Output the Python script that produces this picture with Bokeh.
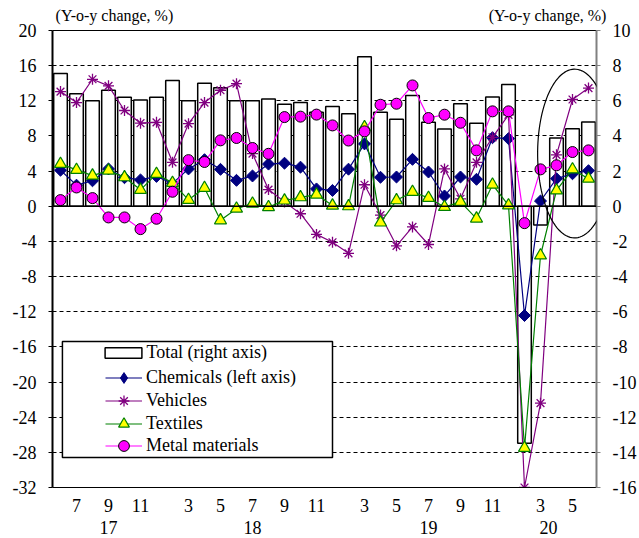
import numpy as np
from bokeh.plotting import figure
from bokeh.models import (Range1d, LinearAxis, FixedTicker, Legend, LegendItem,
                          Span, BoxAnnotation, PolyAnnotation, ColumnDataSource)
from bokeh.embed import file_html
from bokeh.resources import INLINE

# Reporting periods: June 2017 - June 2020, January and February combined ("2" = Jan-Feb)
years = [2017] * 7 + [2018] * 11 + [2019] * 11 + [2020] * 5
months = ([6, 7, 8, 9, 10, 11, 12]
          + [2, 3, 4, 5, 6, 7, 8, 9, 10, 11, 12]
          + [2, 3, 4, 5, 6, 7, 8, 9, 10, 11, 12]
          + [2, 3, 4, 5, 6])

# Total (right axis), y-o-y %
total = [7.55, 6.4, 6.0, 6.6, 6.2, 6.05, 6.2, 7.15, 6.0, 7.0, 6.75, 6.0, 6.0, 6.1,
         5.8, 5.9, 5.35, 5.67, 5.27, 8.5, 5.35, 4.95, 6.3, 4.78, 4.4, 5.83, 4.73,
         6.22, 6.93, -13.48, -1.06, 3.88, 4.41, 4.8]
# Left-axis series, y-o-y %
chemicals = [4.1, 2.4, 2.9, 4.25, 3.25, 3.0, 3.4, 2.6, 4.25, 5.3, 4.2, 2.95, 3.45, 4.8,
             4.9, 4.45, 1.97, 1.8, 4.22, 7.1, 3.3, 3.33, 5.34, 3.9, 1.17, 3.33, 3.07,
             7.8, 7.7, -12.43, 0.6, 3.14, 3.7, 4.05]
vehicles = [13.05, 11.8, 14.45, 13.7, 10.9, 9.45, 9.55, 5.0, 9.4, 11.8, 13.2, 13.95, 6.0,
            1.9, 0.5, -0.85, -3.2, -4.1, -5.35, 2.45, -1.0, -4.5, -2.35, -4.35, 4.25,
            0.85, 5.0, 7.85, 10.4, -32.0, -22.4, 5.85, 12.15, 13.45]
textiles = [4.82, 4.14, 3.49, 4.06, 3.3, 1.87, 3.68, 2.66, 0.73, 2.08, -1.6, -0.27, 0.3,
            -0.1, 0.65, 1.02, 1.33, 0.08, 0.0, 9.0, -1.85, 0.68, 1.63, 0.95, -0.08, 0.5,
            -1.4, 2.45, 0.1, -27.5, -5.6, 1.8, 4.2, 3.14]
metal = [0.7, 2.14, 0.93, -1.27, -1.27, -2.6, -1.42, 1.65, 5.25, 5.04, 7.5, 7.77, 6.63,
         5.97, 10.15, 10.2, 10.43, 9.2, 7.48, 8.52, 11.55, 11.67, 13.75, 10.04, 10.42,
         9.5, 6.36, 10.8, 10.8, -1.92, 4.2, 4.66, 6.17, 6.36]

year_labels = ["17", "18", "19", "20"]
unit_caption = "(Y-o-y change, %)"

FONT = "Liberation Serif"
x = list(range(len(months)))
src = ColumnDataSource(dict(x=x, total=total, chemicals=chemicals, vehicles=vehicles,
                            textiles=textiles, metal=metal))

p = figure(width=639, height=538, output_backend="svg", toolbar_location=None,
           x_range=Range1d(-0.5, len(x) - 0.5), y_range=Range1d(-32, 20),
           min_border_left=52, min_border_right=42, min_border_top=30,
           min_border_bottom=51, background_fill_color="white",
           border_fill_color="white")
p.extra_y_ranges = {"right": Range1d(-16, 10)}
p.outline_line_color = None
p.xgrid.visible = False


def style_ticks(axis, size="18px"):
    axis.major_label_text_font = FONT
    axis.major_label_text_font_size = size
    axis.major_label_text_color = "black"
    axis.minor_tick_line_color = None


def plain(v):
    return str(int(v)) if float(v).is_integer() else str(v)


# left axis
left_ticks = list(range(-32, 21, 4))
ya = p.yaxis[0]
ya.ticker = FixedTicker(ticks=left_ticks)
ya.major_label_overrides = {t: plain(t) for t in left_ticks}
ya.axis_line_color = "black"
ya.axis_line_width = 2
ya.major_tick_out = 4
ya.major_tick_in = 0
ya.major_label_standoff = 12
style_ticks(ya)

# right axis (Total)
right_ticks = list(range(-16, 11, 2))
ra = LinearAxis(y_range_name="right", ticker=FixedTicker(ticks=right_ticks))
ra.major_label_overrides = {t: plain(t) for t in right_ticks}
ra.axis_line_color = "#808080"
ra.axis_line_width = 2
ra.major_tick_line_color = "#808080"
ra.major_tick_out = 4
ra.major_tick_in = 0
ra.major_label_standoff = 12
style_ticks(ra)
p.add_layout(ra, "right")

# month axis
xa = p.xaxis[0]
tick_pos = [i for i, m in enumerate(months) if m in (3, 5, 7, 9, 11)]
xa.ticker = FixedTicker(ticks=tick_pos)
xa.major_label_overrides = {i: str(months[i]) for i in tick_pos}
xa.major_tick_line_color = None
xa.axis_line_color = "black"
xa.major_label_standoff = 5
style_ticks(xa)

# year axis below the months
year_pos = [3, 12, 23, 30.5]
ya2 = LinearAxis(ticker=FixedTicker(ticks=year_pos))
ya2.major_label_overrides = {pos: lab for pos, lab in zip(year_pos, year_labels)}
ya2.axis_line_color = None
ya2.major_tick_line_color = None
ya2.major_label_standoff = 0
style_ticks(ya2)
p.add_layout(ya2, "below")

# top border carrying the unit captions for both axes
cap_pos = [3.37, 30.44]
ta = LinearAxis(ticker=FixedTicker(ticks=cap_pos))
ta.major_label_overrides = {pos: unit_caption for pos in cap_pos}
ta.axis_line_color = "black"
ta.axis_line_width = 1
ta.major_tick_line_color = None
ta.major_label_standoff = 1
style_ticks(ta, "16px")
p.add_layout(ta, "above")

p.ygrid.grid_line_color = "black"
p.ygrid.grid_line_dash = "4 3"
p.ygrid.grid_line_width = 1
p.add_layout(Span(location=0, dimension="width", line_color="black", line_width=1.5))

# bars (right axis)
bars = p.vbar(x="x", top="total", bottom=0, width=0.85, source=src, y_range_name="right",
              fill_color="white", line_color="black", line_width=1.5)

lw = 1.2
NAVY, PURPLE, GREEN, YELLOW, MAGENTA = "#000080", "#800080", "#008000", "#FFFF00", "#FF00FF"
l_chem = p.line("x", "chemicals", source=src, line_color=NAVY, line_width=lw)
# small diamonds underneath the chemicals markers; they supply the legend key shape
key_chem = p.scatter("x", "chemicals", source=src, marker="diamond", size=7,
                     fill_color=NAVY, line_color=NAVY)
s_chem = p.scatter("x", "chemicals", source=src, marker="square", angle=np.pi / 4,
                   size=8.5, fill_color=NAVY, line_color=NAVY)
l_veh = p.line("x", "vehicles", source=src, line_color=PURPLE, line_width=lw)
s_veh = p.scatter("x", "vehicles", source=src, marker="asterisk", size=11,
                  line_color=PURPLE, line_width=1.3)
l_tex = p.line("x", "textiles", source=src, line_color=GREEN, line_width=lw)
s_tex = p.scatter("x", "textiles", source=src, marker="triangle", size=12,
                  fill_color=YELLOW, line_color=GREEN, line_width=1.2)
l_met = p.line("x", "metal", source=src, line_color=MAGENTA, line_width=lw)
s_met = p.scatter("x", "metal", source=src, marker="circle", size=11,
                  fill_color=MAGENTA, line_color="black", line_width=1)

# ellipse highlighting the latest months
cx, cy, ax_, by_ = 32.13, 6.0, 2.31, 9.6
t = np.linspace(0, 2 * np.pi, 120)
p.add_layout(PolyAnnotation(xs=list(cx + ax_ * np.cos(t)), ys=list(cy + by_ * np.sin(t)),
                            fill_color=None, fill_alpha=0, line_color="black",
                            line_alpha=1, line_width=1.2))

# legend frame
p.add_layout(BoxAnnotation(left=0.12, right=17.0, top=-15.4, bottom=-28.6,
                           fill_color="white", fill_alpha=1, line_color="black",
                           line_alpha=1, line_width=1.5, level="overlay"))

common = dict(margin=0, padding=5, label_height=20, border_line_color=None,
              background_fill_alpha=0, label_text_font=FONT, spacing=0,
              label_text_font_size="18px", label_text_color="black")

# bar key: a flat box
p.add_layout(Legend(items=[LegendItem(label="Total (right axis)", renderers=[bars])],
                    location=(48.4, 124.5), glyph_width=46, glyph_height=13,
                    label_standoff=0, **common), "center")

# line + marker keys, one row each
line_keys = [("Chemicals (left axis)", [l_chem, key_chem], 96.5),
             ("Vehicles", [l_veh, s_veh], 73.5),
             ("Textiles", [l_tex, s_tex], 50.5),
             ("Metal materials", [l_met, s_met], 28.5)]
for label, rends, row_y in line_keys:
    p.add_layout(Legend(items=[LegendItem(label=label, renderers=rends)],
                        location=(53, row_y), glyph_width=37, glyph_height=27,
                        label_standoff=4, **common), "center")

open("out.html", "w").write(file_html(p, INLINE))
